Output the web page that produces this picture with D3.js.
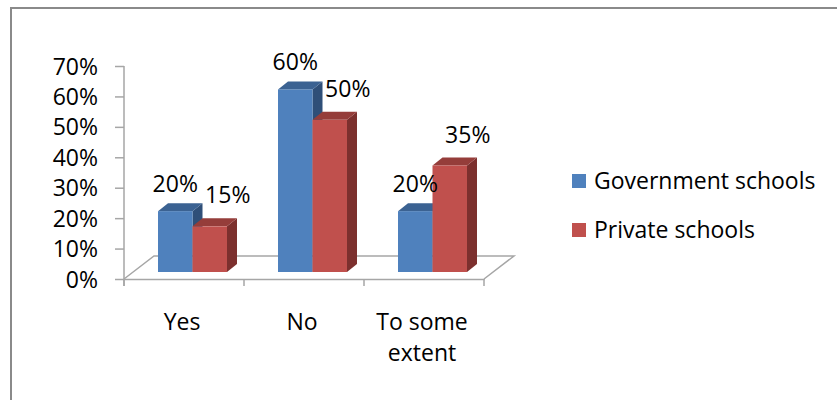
<!DOCTYPE html>
<html>
<head>
<meta charset="utf-8">
<script src="https://cdn.jsdelivr.net/npm/d3@7"></script>
<style>
  body { margin: 0; background: #fff; }
  svg { display: block; font-family: 'Open Sans', sans-serif; }
</style>
</head>
<body>
<div id="chart"></div>
<script>
var categories = ['Yes', 'No', 'To some extent'];
var seriesNames = ['Government schools', 'Private schools'];
var government = [0.20, 0.60, 0.20];
var privateSchools = [0.15, 0.50, 0.35];
var yTicks = [0, 0.1, 0.2, 0.3, 0.4, 0.5, 0.6, 0.7];

var frontColors = ['#4f81bd', '#c0504d'];
var topColors = ['#3b6292', '#953d3a'];
var sideColors = ['#2f4f78', '#7c302e'];

var width = 837, height = 400;
var fontSize = 23;
var plot = {left: 124, right: 484, top: 66, bottom: 279};
var floorDepth = {dx: 30, dy: -23};
var barFront = {dx: 9, dy: -7};
var barDepth = {dx: 10, dy: -8};

var svg = d3.select('#chart')
  .append('svg')
  .attr('width', width)
  .attr('height', height);

// outer frame (only top and left edges are visible)
svg.append('path')
  .attr('d', 'M11,' + height + 'V8H' + width)
  .attr('fill', 'none')
  .attr('stroke', '#8a8a8a')
  .attr('stroke-width', 2);

var x0 = d3.scaleBand()
  .domain(categories)
  .range([plot.left, plot.right]);

var x1 = d3.scaleBand()
  .domain(seriesNames)
  .range([25, 94]);

var y = d3.scaleLinear()
  .domain([0, 0.7])
  .range([plot.bottom, plot.top]);

var pct = d3.format('.0%');

// floor
svg.append('path')
  .attr('d', 'M' + plot.left + ',' + plot.bottom +
    'L' + (plot.left + floorDepth.dx) + ',' + (plot.bottom + floorDepth.dy) +
    'H' + (plot.right + floorDepth.dx) +
    'L' + plot.right + ',' + plot.bottom)
  .attr('fill', 'none')
  .attr('stroke', '#a6a6a6')
  .attr('stroke-width', 1.5);

// x axis
var xAxis = svg.append('g')
  .attr('transform', 'translate(0,' + plot.bottom + ')')
  .call(d3.axisBottom(x0)
    .tickValues([])
    .tickSizeOuter(0));
xAxis.select('.domain').attr('stroke', '#a6a6a6').attr('stroke-width', 1.5);

var xTickPos = categories.map(function(c) { return x0(c); }).concat([plot.right]);
svg.append('g').selectAll('line')
  .data(xTickPos)
  .enter().append('line')
  .attr('x1', function(d) { return d; })
  .attr('x2', function(d) { return d; })
  .attr('y1', plot.bottom)
  .attr('y2', plot.bottom + 7)
  .attr('stroke', '#a6a6a6')
  .attr('stroke-width', 1.5);

// x labels with wrapping
svg.append('g')
  .selectAll('text')
  .data(categories)
  .enter().append('text')
  .attr('x', function(d) { return x0(d) + x0.bandwidth() / 2 - 2; })
  .attr('y', 330)
  .attr('text-anchor', 'middle')
  .attr('font-size', fontSize)
  .attr('fill', '#000')
  .each(function(d) {
    var words = d.split(' ');
    var lines = [];
    var line = [];
    var el = d3.select(this);
    var probe = el.append('tspan');
    words.forEach(function(w) {
      line.push(w);
      probe.text(line.join(' '));
      if (probe.node().getComputedTextLength() > 110 && line.length > 1) {
        line.pop();
        lines.push(line.join(' '));
        line = [w];
      }
    });
    lines.push(line.join(' '));
    probe.remove();
    lines.forEach(function(l, i) {
      el.append('tspan')
        .attr('x', el.attr('x'))
        .attr('dy', i === 0 ? 0 : 31)
        .text(l);
    });
  });

// y axis
var yAxis = svg.append('g')
  .attr('transform', 'translate(' + plot.left + ',0)')
  .call(d3.axisLeft(y)
    .tickValues(yTicks)
    .tickSize(9)
    .tickSizeOuter(0)
    .tickFormat(pct));
yAxis.select('.domain')
  .attr('stroke', '#a6a6a6')
  .attr('stroke-width', 1.5)
  .attr('d', 'M0,' + plot.top + 'V' + (plot.bottom + 7));
yAxis.selectAll('.tick line').attr('stroke', '#a6a6a6').attr('stroke-width', 1.5);
yAxis.selectAll('.tick text')
  .attr('font-size', fontSize)
  .attr('font-family', "'Open Sans', sans-serif")
  .attr('fill', '#000')
  .attr('x', -26)
  .attr('dy', '0.35em');

// bars
var data = [];
categories.forEach(function(c, i) {
  data.push({cat: c, series: 0, value: government[i]});
  data.push({cat: c, series: 1, value: privateSchools[i]});
});

var bars = svg.append('g')
  .selectAll('g')
  .data(data)
  .enter().append('g');

bars.each(function(d) {
  var g = d3.select(this);
  var bx = x0(d.cat) + x1(seriesNames[d.series]) + barFront.dx;
  var bw = x1.bandwidth();
  var yb = y(0) + barFront.dy;
  var yt = y(d.value) + barFront.dy;
  // right side
  g.append('path')
    .attr('d', 'M' + (bx + bw) + ',' + yb +
      'L' + (bx + bw + barDepth.dx) + ',' + (yb + barDepth.dy) +
      'L' + (bx + bw + barDepth.dx) + ',' + (yt + barDepth.dy) +
      'L' + (bx + bw) + ',' + yt + 'Z')
    .attr('fill', sideColors[d.series]);
  // top
  g.append('path')
    .attr('d', 'M' + bx + ',' + yt +
      'L' + (bx + barDepth.dx) + ',' + (yt + barDepth.dy) +
      'L' + (bx + bw + barDepth.dx) + ',' + (yt + barDepth.dy) +
      'L' + (bx + bw) + ',' + yt + 'Z')
    .attr('fill', topColors[d.series]);
  // front
  g.append('rect')
    .attr('x', bx)
    .attr('y', yt)
    .attr('width', bw)
    .attr('height', yb - yt)
    .attr('fill', frontColors[d.series]);
});

// value labels
svg.append('g')
  .selectAll('text')
  .data(data)
  .enter().append('text')
  .attr('x', function(d) {
    return x0(d.cat) + x1(seriesNames[d.series]) + barFront.dx +
      x1.bandwidth() / 2 + (d.series === 1 ? 18 : 0);
  })
  .attr('y', function(d) {
    return y(d.value) + barFront.dy - (d.series === 1 ? 23 : 19);
  })
  .attr('text-anchor', 'middle')
  .attr('font-size', fontSize)
  .attr('fill', '#000')
  .text(function(d) { return pct(d.value); });

// legend
var legend = svg.append('g')
  .attr('transform', 'translate(572,181)');

var legendItem = legend.selectAll('g')
  .data(seriesNames)
  .enter().append('g')
  .attr('transform', function(d, i) { return 'translate(0,' + (i * 49) + ')'; });

legendItem.append('rect')
  .attr('x', 0)
  .attr('y', -7)
  .attr('width', 14)
  .attr('height', 14)
  .attr('fill', function(d, i) { return frontColors[i]; });

legendItem.append('text')
  .attr('x', 22)
  .attr('dy', '0.35em')
  .attr('font-size', fontSize)
  .attr('fill', '#000')
  .text(function(d) { return d; });
</script>
</body>
</html>
